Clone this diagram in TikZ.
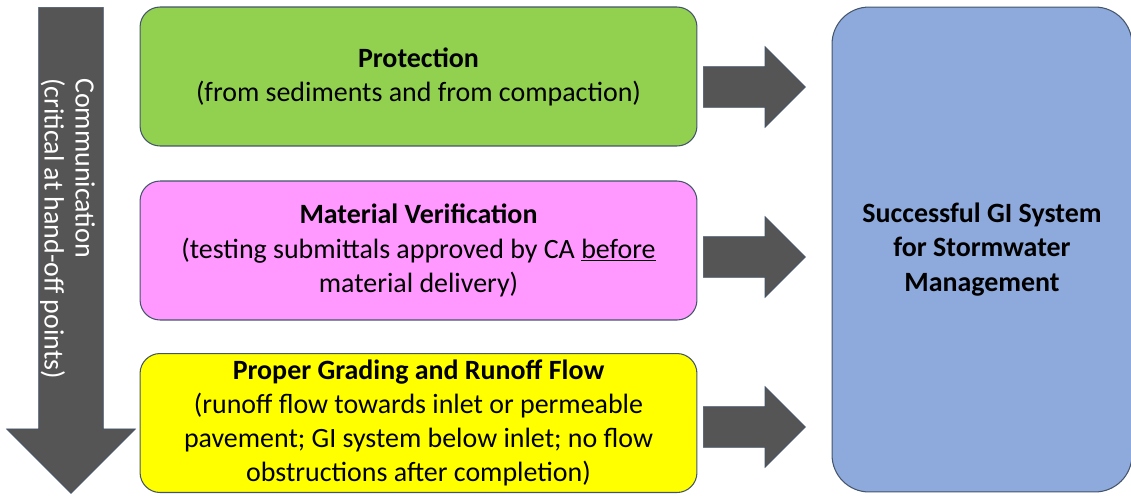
\documentclass[tikz,border=0pt]{standalone}
\usepackage{fontspec}
\setmainfont{Carlito}
\usetikzlibrary{shapes.arrows, positioning}
\definecolor{verde}{HTML}{92D050}
\definecolor{rosa}{HTML}{FF99FF}
\definecolor{amarillo}{HTML}{FFFF00}
\definecolor{azul}{HTML}{8EA9DB}
\definecolor{grisosc}{HTML}{555555}
\definecolor{borde}{HTML}{44546A}
\tikzset{
  caja/.style={rectangle, rounded corners=0.4cm, draw=borde, line width=0.6pt,
               minimum width=11.14cm, minimum height=2.78cm, align=center,
               font=\fontsize{15.9}{19.4}\selectfont},
  meta/.style={rectangle, rounded corners=0.74cm, draw=borde, line width=0.6pt, fill=azul,
               minimum width=6cm, minimum height=9.7cm, align=center,
               font=\fontsize{15.9}{19.4}\selectfont\bfseries},
  flecha/.style={single arrow, fill=grisosc, draw=borde, line width=0.4pt,
                 inner xsep=0pt, inner ysep=0.4cm, single arrow head extend=0.4cm,
                 minimum height=2.04cm, anchor=tail},
  flechabaja/.style={single arrow, rotate=-90, fill=grisosc, draw=borde, line width=0.4pt,
                     inner xsep=0pt, inner ysep=0.64cm, single arrow head extend=0.64cm,
                     minimum height=9.72cm, anchor=tail}
}
\begin{document}
\begin{tikzpicture}[x=0.02cm, y=-0.02cm]
  \useasboundingbox (0,0) rectangle (1131,495);
  \node (comm) [flechabaja] at (71,7) {};
  \node (commtxt) [rotate=-90, anchor=west, align=left, text=white,
                   font=\fontsize{15.9}{17.6}\selectfont] at (67.5,72)
        {Communication\\(critical at hand-off points)};
  \node (prot) [caja, fill=verde] at (418.5,76.5)
        {\textbf{Protection}\\(from sediments and from compaction)};
  \node (mat) [caja, fill=rosa] at (418.5,250.5)
        {\textbf{Material Verification}\\(testing submittals approved by CA \underline{before}\\material delivery)};
  \node (grad) [caja, fill=amarillo] at (418.5,423)
        {\textbf{Proper Grading and Runoff Flow}\\(runoff flow towards inlet or permeable\\pavement; GI system below inlet; no flow\\obstructions after completion)};
  \node (gi) [meta] at (982,249.5) {Successful GI System\\for Stormwater\\Management};
  \node (a1) [flecha] at (703,87) {};
  \node (a2) [flecha] at (703,257) {};
  \node (a3) [flecha] at (703,427) {};
\end{tikzpicture}
\end{document}
